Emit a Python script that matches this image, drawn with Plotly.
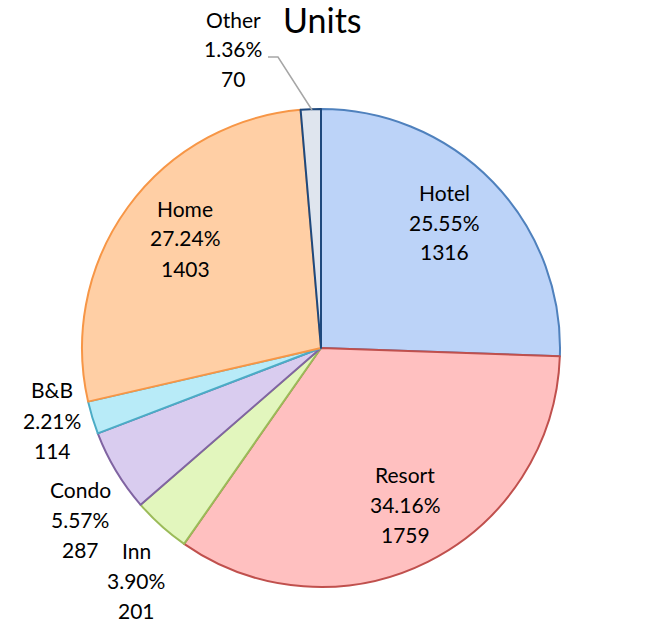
import plotly.graph_objects as go

categories = ["Hotel", "Resort", "Inn", "Condo", "B&B", "Home", "Other"]
units = [1316, 1759, 201, 287, 114, 1403, 70]
fill_colors = ["#bcd3f8", "#ffc0c0", "#e2f6bd", "#d9ccef", "#b8ebf8", "#ffcfa5", "#dfe5ee"]
line_colors = ["#4f81bd", "#c0504d", "#9bbb59", "#8064a2", "#4bacc6", "#f79646", "#1f497d"]

# label anchor positions (pixels in the page): centre x, first-line y
label_pos = {
    "Hotel": (445, 192),
    "Resort": (405, 474),
    "Inn": (136, 550),
    "Condo": (80, 489),
    "B&B": (52, 390),
    "Home": (185, 208),
    "Other": (233, 19),
}

W, H = 652, 622
total = sum(units)


def px(x):
    return x / W


def py(y):
    return 1 - y / H


fig = go.Figure(go.Pie(
    labels=categories,
    values=units,
    sort=False,
    direction="clockwise",
    rotation=0,
    marker=dict(colors=fill_colors, line=dict(color=line_colors, width=2)),
    textinfo="none",
    hoverinfo="label+percent+value",
    domain=dict(x=[px(321 - 239), px(321 + 239)], y=[py(588), py(108)]),
    showlegend=False,
))

annotations = []
font = dict(family="Lato, 'Open Sans', sans-serif", size=21, color="#000000")
for cat, val in zip(categories, units):
    x, y0 = label_pos[cat]
    lines = [cat, f"{100 * val / total:.2f}%", str(val)]
    for i, t in enumerate(lines):
        annotations.append(dict(
            x=px(x), y=py(y0 + 30 * i), xref="paper", yref="paper",
            text=t, showarrow=False, font=font, xanchor="center", yanchor="middle",
        ))

annotations.append(dict(
    x=px(322), y=1, xref="paper", yref="paper", text="Units",
    showarrow=False, font=dict(family="Lato, 'Open Sans', sans-serif", size=34, color="#000000"),
    xanchor="center", yanchor="top", yshift=3,
))

# leader line for the "Other" label
fig.add_shape(type="path", xref="paper", yref="paper",
              path=f"M {px(268)} {py(57)} L {px(278)} {py(57)} L {px(312)} {py(110)}",
              line=dict(color="#a6a6a6", width=1.5))

fig.update_layout(
    width=W, height=H,
    margin=dict(l=0, r=0, t=0, b=0),
    paper_bgcolor="white", plot_bgcolor="white",
    annotations=annotations,
)

fig.write_html("out.html", config={"displayModeBar": False},
               post_script="document.body.style.margin='0';")
